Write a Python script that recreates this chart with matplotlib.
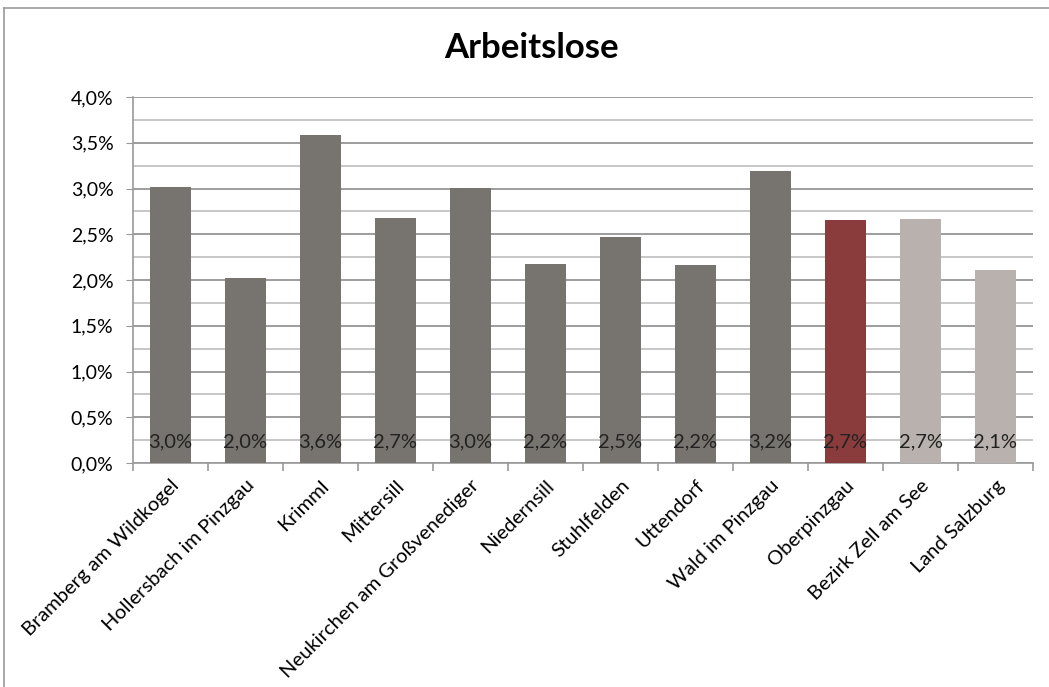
import matplotlib
matplotlib.use("Agg")
import matplotlib.pyplot as plt
from matplotlib.lines import Line2D
from matplotlib.ticker import MultipleLocator, FuncFormatter

categories = ["Bramberg am Wildkogel", "Hollersbach im Pinzgau", "Krimml", "Mittersill",
              "Neukirchen am Großvenediger", "Niedernsill", "Stuhlfelden", "Uttendorf",
              "Wald im Pinzgau", "Oberpinzgau", "Bezirk Zell am See", "Land Salzburg"]
values = [3.02, 2.02, 3.58, 2.68, 3.005, 2.17, 2.47, 2.16, 3.19, 2.66, 2.67, 2.11]
colors = ["#77736f"] * 9 + ["#8a3b3b", "#b8b1ad", "#b8b1ad"]
title = "Arbeitslose"

plt.rcParams['font.family'] = ['Lato', 'DejaVu Sans']

fig = plt.figure(figsize=(10.49, 6.87), dpi=100)
fig.patch.set_facecolor("white")

# outer chart frame
fig.add_artist(Line2D([4/1049, 4/1049], [0, 1 - 8/687], transform=fig.transFigure, color="#9a9a9a", lw=1.2))
fig.add_artist(Line2D([4/1049, 1], [1 - 8/687, 1 - 8/687], transform=fig.transFigure, color="#9a9a9a", lw=1.2))

ax = fig.add_axes([133/1049, 1 - 463/687, 900/1049, 366/687])
x = list(range(len(categories)))
ax.bar(x, values, width=0.55, color=colors, zorder=3)

ax.set_xlim(-0.5, len(categories) - 0.5)
ax.set_ylim(0, 4.0)
ax.yaxis.set_major_locator(MultipleLocator(0.5))
ax.yaxis.set_minor_locator(MultipleLocator(0.25))
ax.yaxis.set_major_formatter(FuncFormatter(lambda v, p: f"{v:.1f}%".replace(".", ",")))
ax.grid(True, axis="y", which="major", color="#8c8c8c", lw=1.2, zorder=0)
ax.grid(True, axis="y", which="minor", color="#bdbdbd", lw=1.2, zorder=0)

for s in ["top", "right"]:
    ax.spines[s].set_visible(False)
ax.spines["left"].set_color("#9a9a9a")
ax.spines["bottom"].set_color("#9a9a9a")
ax.spines["left"].set_linewidth(1.2)
ax.spines["bottom"].set_linewidth(1.2)

ax.tick_params(axis="y", which="major", length=5, color="#9a9a9a", labelsize=14, pad=9)
ax.tick_params(axis="y", which="minor", length=0)

# category tick marks at boundaries
ax.set_xticks([i - 0.5 for i in range(len(categories) + 1)], minor=True)
ax.tick_params(axis="x", which="minor", length=6, color="#9a9a9a", width=1.2)
ax.set_xticks(x)
ax.set_xticklabels(categories, rotation=45, ha="right", rotation_mode="anchor", fontsize=14.5)
ax.tick_params(axis="x", which="major", length=0, pad=10)

for xi, v in zip(x, values):
    ax.text(xi, 0.23, f"{v:.1f}%".replace(".", ","), ha="center", va="center",
            fontsize=14.5, color="#222222", zorder=4)

fig.text(532/1049, 1 - 48/687, title, ha="center", va="center", fontsize=25, fontweight="bold")

fig.savefig("out.png", dpi=100, facecolor="white")
